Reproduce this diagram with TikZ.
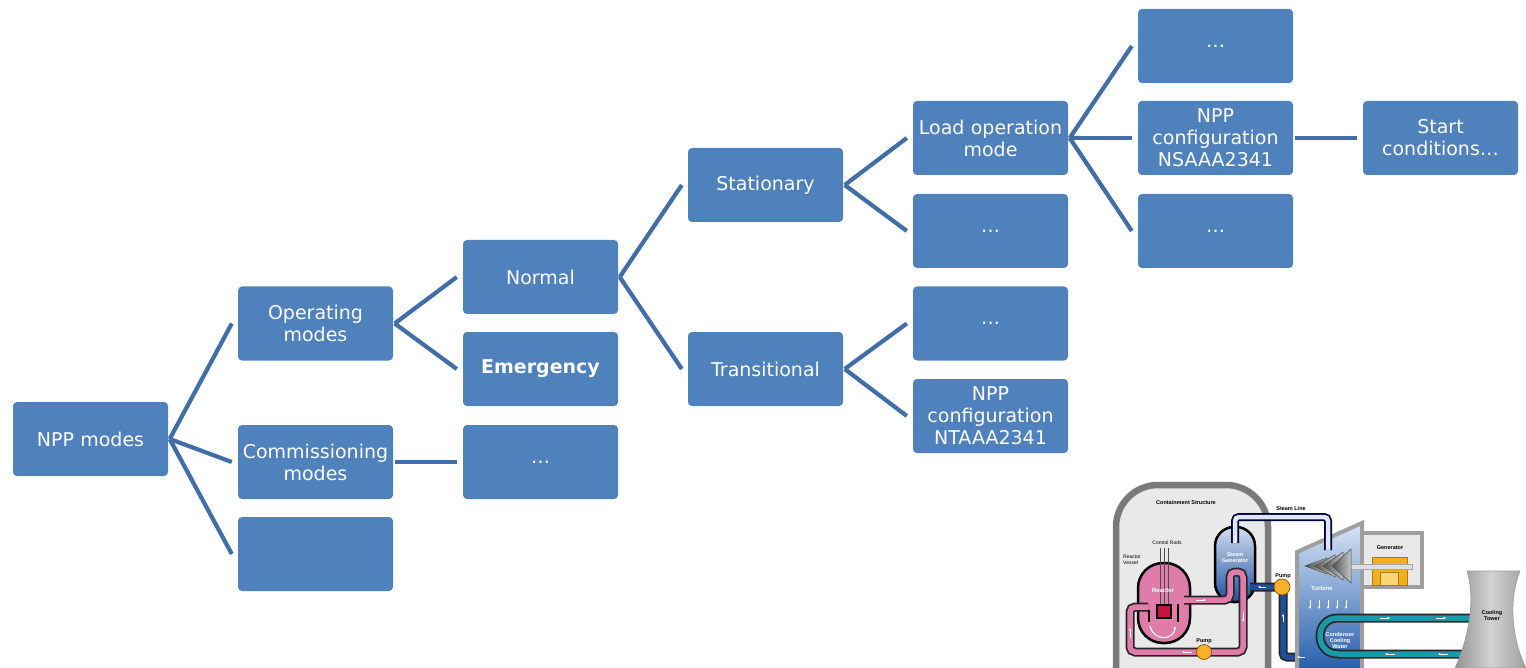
\documentclass[tikz,border=0pt]{standalone}
\usepackage{fontspec}
\setmainfont{DejaVu Sans}
\newfontfamily\labf{Liberation Sans}
\usetikzlibrary{arrows.meta}
\definecolor{boxblue}{HTML}{4F81BD}
\definecolor{linkblue}{HTML}{416EA8}
\definecolor{wallgray}{HTML}{7A7A7A}
\definecolor{inside}{HTML}{E9E9E9}
\definecolor{rpink}{HTML}{E07CA9}
\definecolor{coreRed}{HTML}{C2143E}
\definecolor{sgtop}{HTML}{D2DEF0}
\definecolor{sgbot}{HTML}{1F4F9E}
\definecolor{fwblue}{HTML}{1D4F9B}
\definecolor{steamin}{HTML}{DDE7F3}
\definecolor{pumpor}{HTML}{F5B228}
\definecolor{teal}{HTML}{1A9AA8}
\definecolor{genor}{HTML}{F4AF1E}
\definecolor{genin}{HTML}{FBD676}
\definecolor{tbtop}{HTML}{D6E3F4}
\definecolor{tbbot}{HTML}{1B55A8}
\begin{document}
\begin{tikzpicture}[x=1pt,y=-1pt,
  box/.style={fill=boxblue, rounded corners=4pt, minimum width=155pt, minimum height=74pt,
    inner sep=0pt, text=white, align=center, text width=153pt,
    font=\fontsize{19}{22}\selectfont},
  conn/.style={draw=linkblue, line width=4.2pt},
  lab/.style={font=\labf\bfseries\fontsize{5.5}{6}\selectfont, inner sep=0pt, align=center},
  wlab/.style={lab, text=white},
  warr/.style={draw=white, line width=0.8pt, -{Latex[length=2.4pt,width=2.6pt]}},
  pinkpipe/.style={draw=black!85, line width=9pt, rounded corners=5pt,
    postaction={draw=rpink, line width=5.5pt}},
  fwpipe/.style={draw=black!85, line width=9pt, rounded corners=4pt,
    postaction={draw=fwblue, line width=5.5pt}},
  steampipe/.style={draw=black!80!blue, line width=8pt, rounded corners=4pt,
    postaction={draw=steamin, line width=4.5pt}},
  tealpipe/.style={draw=black!85, line width=9pt,
    postaction={draw=teal, line width=5.5pt}}
]
\useasboundingbox (0,0) rectangle (1526,668);

% ---------- tree ----------
\node[box] (npp)   at (90.5,439)   {NPP modes};
\node[box] (op)    at (315.5,323.5) {Operating\\modes};
\node[box] (com)   at (315.5,462)  {Commissioning\\modes};
\node[box] (blank) at (315.5,554)  {};
\node[box] (norm)  at (540.5,277)  {Normal};
\node[box] (emer)  at (540.5,369)  {\bfseries Emergency};
\node[box] (dotsa) at (540.5,462)  {…};
\node[box] (stat)  at (765.5,185)  {Stationary};
\node[box] (trans) at (765.5,369)  {Transitional};
\node[box] (load)  at (990.5,138)  {Load operation\\mode};
\node[box] (dotsb) at (990.5,231)  {…};
\node[box] (dotsc) at (990.5,323.5) {…};
\node[box] (ntaa)  at (990.5,416)  {NPP\\configuration\\NTAAA2341};
\node[box] (dotsd) at (1215.5,46)  {…};
\node[box] (nsaa)  at (1215.5,138) {NPP\\configuration\\NSAAA2341};
\node[box] (dotse) at (1215.5,231) {…};
\node[box] (start) at (1440.5,138) {Start\\conditions…};

\foreach \a/\b in {npp/op, npp/com, npp/blank, op/norm, op/emer, com/dotsa,
  norm/stat, norm/trans, stat/load, stat/dotsb, trans/dotsc, trans/ntaa,
  load/dotsd, load/nsaa, load/dotse, nsaa/start}
  \draw[conn] ([xshift=1.5pt]\a.east) -- ([xshift=-6pt]\b.west);

% ---------- PWR schematic ----------
\begin{scope}
\clip (1100,470) rectangle (1526,668);
% containment
\draw[draw=wallgray, line width=6.5pt, fill=inside, rounded corners=42pt]
  (1116,700) -- (1116,485) -- (1268,485) -- (1268,700);
% reactor vessel
\draw[line width=2.5pt, fill=rpink, rounded corners=25pt] (1138,563) rectangle (1190,643);
\foreach \cx in {1160,1164,1168}
  \draw[black!70, line width=0.9pt] (\cx,548) -- (\cx,607);
\draw[line width=1.6pt, fill=coreRed] (1157,605) rectangle (1171,618);
\draw[line width=1.6pt] (1149,610) -- (1149,622);
\draw[line width=1.6pt] (1178,604) -- (1178,622);
\draw[draw=white, line width=1.1pt, -{Latex[length=3pt,width=3pt]}]
  (1150,626) .. controls (1154,642) and (1174,640) .. (1175,626);
% steam generator
\draw[line width=2.5pt, top color=sgtop, bottom color=sgbot, rounded corners=19pt]
  (1215,527) rectangle (1255,602);
% primary loop
\path[pinkpipe] (1148,607) -- (1130,607) -- (1130,652) -- (1243,652) -- (1243,572)
  -- (1230,572) -- (1230,600) -- (1184,600);
% feed water
\path[fwpipe] (1250,587) -- (1283,587) -- (1283,657) -- (1306,657);
% turbine building
\draw[draw=gray!75, line width=4pt, top color=tbtop, bottom color=tbbot]
  (1297,680) -- (1297,552) -- (1362,523) -- (1362,680);
% generator housing
\draw[draw=gray!75, line width=3.5pt, fill=inside] (1362,533) rectangle (1422,587);
\draw[draw=genor!70!black, line width=0.6pt, fill=genor] (1372,557) rectangle (1407,585);
\draw[draw=genor!70!black, line width=0.5pt, fill=genin] (1380,572) rectangle (1398,585);
\draw[draw=gray!70, line width=0.6pt, fill=gray!25] (1345,564) rectangle (1412,569);
% turbine blades
\foreach \xa/\xb/\h in {1305/1327/8, 1314/1335/11, 1323/1343/14, 1332/1351/17}
  \draw[draw=black!70, line width=0.5pt, left color=black!70, right color=gray!45]
    (\xa,566) -- (\xb,566-\h) -- (\xb,566+\h) -- cycle;
% steam line
\path[steampipe] (1235,543) -- (1235,517) -- (1328,517) -- (1328,550);
% condenser cooling water
\path[tealpipe] (1472,618) -- (1338,618) .. controls (1314,618) and (1314,654) .. (1338,654)
  -- (1465,654);
% cooling tower
\draw[draw=gray!80, line width=0.6pt, left color=gray!85, right color=gray!75, middle color=gray!35]
  (1467,571) .. controls (1476,600) and (1468,640) .. (1455,668)
  -- (1526,668) .. controls (1512,640) and (1508,600) .. (1520,571) -- cycle;
% pumps
\draw[draw=orange!60!black, line width=0.7pt, fill=pumpor] (1204,652) circle[radius=7.5];
\draw[draw=orange!60!black, line width=0.7pt, fill=pumpor] (1282,587) circle[radius=8];
% small arrows
\draw[warr] (1235,543) -- (1235,535);
\draw[warr] (1196,600) -- (1206,600);
\draw[warr] (1243,612) -- (1243,622);
\draw[warr] (1192,652) -- (1182,652);
\draw[warr] (1130,638) -- (1130,628);
\draw[warr] (1266,587) -- (1258,587);
\draw[warr] (1283,622) -- (1283,614);
\draw[warr] (1305,657) -- (1297,657);
\draw[warr] (1380,618) -- (1390,618);
\draw[warr] (1436,618) -- (1446,618);
\draw[warr] (1395,654) -- (1385,654);
\draw[warr] (1448,654) -- (1438,654);
\foreach \ax in {1310,1319,1328,1337,1346}
  \draw[warr] (\ax,600) -- (\ax,609);
% labels
\node[lab] (lcont) at (1186,503) {Containment Structure};
\node[lab] (lsteam) at (1291,509) {Steam Line};
\node[lab, font=\labf\fontsize{5}{5.5}\selectfont] (lrods) at (1167,543) {Control Rods};
\node[lab, font=\labf\fontsize{5}{5.5}\selectfont, align=left, anchor=west] (lvess) at (1123,560) {Reactor\\Vessel};
\node[wlab, font=\labf\bfseries\fontsize{6}{6.5}\selectfont] (lreac) at (1163,590) {Reactor};
\node[wlab] (lsg) at (1235,558) {Steam\\Generator};
\node[lab] (lpump1) at (1204,641) {Pump};
\node[lab] (lpump2) at (1283,576) {Pump};
\node[lab] (lgen) at (1390,548) {Generator};
\node[wlab, font=\labf\bfseries\fontsize{6}{6.5}\selectfont] (lturb) at (1322,588) {Turbine};
\node[wlab] (lcond) at (1340,641) {Condenser\\Cooling\\Water};
\node[lab] (ltower) at (1492,616) {Cooling\\Tower};
\end{scope}
\end{tikzpicture}
\end{document}
